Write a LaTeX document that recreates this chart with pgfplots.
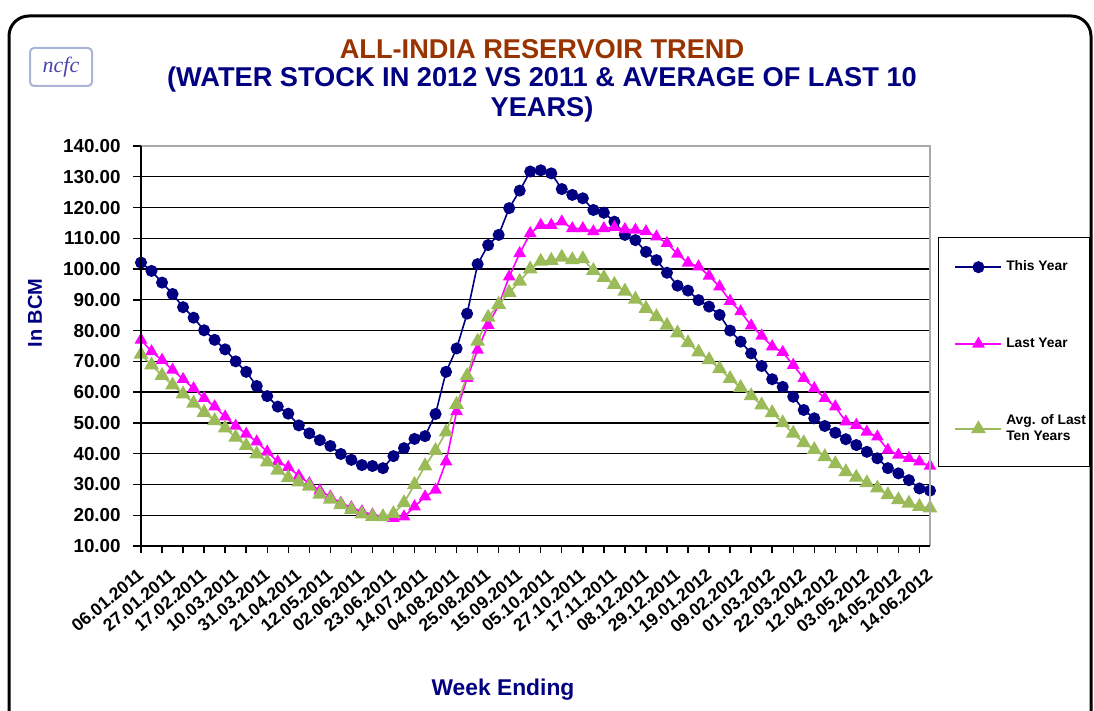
\documentclass[border=0pt]{standalone}
\usepackage{pgfplots}
\pgfplotsset{compat=1.18}
\usepackage{fontspec}
\setmainfont{Liberation Sans}
\newfontfamily\logofont{Liberation Serif}
\definecolor{navyc}{RGB}{0,0,128}
\definecolor{brownc}{RGB}{153,51,0}
\definecolor{magc}{RGB}{255,0,255}
\definecolor{greenc}{RGB}{155,187,89}
\definecolor{logoc}{RGB}{170,180,215}
\definecolor{logot}{RGB}{70,70,170}
\definecolor{borderg}{RGB}{170,170,170}

\pgfplotstableread{
i this last avg
0 102.1 77.0 72.3
1 99.4 73.2 68.8
2 95.6 70.4 65.4
3 91.9 67.2 62.3
4 87.6 64.2 59.4
5 84.2 61.2 56.4
6 80.1 58.0 53.4
7 77.0 55.3 50.7
8 73.9 52.0 48.3
9 70.0 49.0 45.3
10 66.6 46.4 42.6
11 62.0 43.9 39.9
12 58.7 40.6 37.3
13 55.3 37.4 34.6
14 53.0 35.6 32.2
15 49.2 32.8 30.8
16 46.6 30.3 29.4
17 44.4 28.0 26.8
18 42.5 26.0 25.2
19 39.9 24.0 23.4
20 38.0 22.5 21.8
21 36.3 21.2 20.4
22 36.0 20.2 19.6
23 35.3 19.6 19.5
24 39.2 19.0 20.5
25 41.8 19.5 24.0
26 44.8 22.8 30.0
27 45.7 26.0 36.0
28 52.9 28.2 41.0
29 66.6 37.4 47.0
30 74.2 53.7 56.0
31 85.5 64.5 65.3
32 101.6 73.7 76.5
33 107.8 81.8 84.3
34 111.1 88.3 88.5
35 119.8 97.5 92.4
36 125.5 105.1 96.0
37 131.7 111.6 100.0
38 132.1 114.3 102.5
39 131.1 114.3 102.8
40 126.0 115.4 103.8
41 124.1 113.2 103.0
42 123.0 113.2 103.3
43 119.2 112.2 99.5
44 118.3 113.2 97.2
45 115.4 113.6 95.0
46 111.1 112.9 92.8
47 109.4 112.7 90.2
48 105.6 112.2 87.2
49 102.9 110.5 84.5
50 98.8 108.4 81.7
51 94.6 104.9 79.2
52 93.0 102.0 76.0
53 89.9 100.8 73.0
54 87.8 97.8 70.5
55 85.1 94.3 67.6
56 80.0 89.6 64.4
57 76.4 86.2 61.5
58 72.6 81.6 58.8
59 68.5 78.3 55.8
60 64.2 74.8 53.3
61 61.7 73.0 50.0
62 58.5 68.8 46.6
63 54.2 64.5 43.5
64 51.5 61.2 41.3
65 49.0 58.0 39.0
66 46.8 55.3 36.7
67 44.7 50.4 34.1
68 42.8 49.3 32.3
69 40.6 47.1 30.5
70 38.5 45.5 28.8
71 35.3 41.2 26.6
72 33.6 39.6 25.0
73 31.4 38.5 23.9
74 28.7 37.4 22.8
75 28.0 36.0 22.3
}\datatable

\begin{document}
\begin{tikzpicture}
\useasboundingbox (0pt,0pt) rectangle (547pt,355.5pt);
\begin{scope}
\clip (0pt,0pt) rectangle (547pt,355.5pt);
\draw[line width=1.5pt, rounded corners=10pt] (4.5pt,-30pt) rectangle (545.5pt,347.5pt);
\end{scope}
% logo
\node[draw=logoc, line width=1pt, rounded corners=2pt, minimum width=31pt, minimum height=19pt, inner sep=0pt,
      font=\logofont\itshape\fontsize{11}{12}\selectfont, text=logot] at (30.5pt,322pt) {ncfc};
% titles
\node[font=\fontsize{13.6}{16}\selectfont\bfseries, text=brownc] at (271pt,331pt) {ALL-INDIA RESERVOIR TREND};
\node[font=\fontsize{13.6}{16}\selectfont\bfseries, text=navyc] at (271pt,316pt) {(WATER STOCK IN 2012 VS 2011 \& AVERAGE OF LAST 10};
\node[font=\fontsize{13.6}{16}\selectfont\bfseries, text=navyc] at (271pt,301pt) {YEARS)};
% axis labels
\node[font=\fontsize{10}{12}\selectfont\bfseries, text=navyc, rotate=90] at (17.5pt,199pt) {In BCM};
\node[font=\fontsize{11.4}{13}\selectfont\bfseries, text=navyc] at (251.5pt,10.5pt) {Week Ending};

\begin{axis}[
  at={(70.5pt,82.5pt)}, anchor=south west,
  scale only axis, width=394.5pt, height=200pt,
  xmin=0, xmax=75, ymin=10, ymax=140,
  clip=false,
  axis line style={draw=none},
  tick pos=left, tick align=outside,
  ytick={10,20,...,140},
  major tick length=4pt,
  minor tick length=3.5pt,
  y tick style={black, line width=0.7pt},
  major x tick style={draw=none},
  minor xtick={0,2,...,74},
  minor x tick style={black, line width=0.7pt},
  xtick={0,3,...,75},
  xticklabels={06.01.2011,27.01.2011,17.02.2011,10.03.2011,31.03.2011,21.04.2011,12.05.2011,02.06.2011,23.06.2011,14.07.2011,04.08.2011,25.08.2011,15.09.2011,05.10.2011,27.10.2011,17.11.2011,08.12.2011,29.12.2011,19.01.2012,09.02.2012,01.03.2012,22.03.2012,12.04.2012,03.05.2012,24.05.2012,14.06.2012},
  xticklabel style={rotate=40, anchor=east, inner sep=0pt, font=\fontsize{8.8}{10}\selectfont\bfseries},
  xticklabel shift=9pt,
  yticklabel style={anchor=east, inner sep=0pt, font=\fontsize{9.4}{10}\selectfont\bfseries},
  yticklabel shift=6pt,
  /pgf/number format/.cd, fixed, fixed zerofill, precision=2, assume math mode=true, 1000 sep={},
  /pgfplots/.cd,
  ymajorgrids,
  major grid style={black, line width=0.65pt},
  legend style={at={(1.0101,0.7725)}, anchor=north west, draw=black, line width=0.7pt,
     font=\fontsize{6.9}{8.2}\selectfont\bfseries, row sep=28pt, inner xsep=0pt, inner ysep=9.5pt,
     nodes={align=left}},
  legend cell align=left,
  legend image code/.code={\path (0pt,0pt); \draw[mark repeat=2,mark phase=2,#1] plot coordinates {(8pt,0pt) (19.5pt,0pt) (31pt,0pt)};},
  after end axis/.code={
    \draw[borderg, line width=0.8pt] (rel axis cs:0,1) -- (rel axis cs:1,1) -- (rel axis cs:1,0);
    \draw[black, line width=1pt] (rel axis cs:0,1) -- (rel axis cs:0,0) -- (rel axis cs:1,0);
  },
]
\addplot[color=navyc, line width=0.8pt, mark=*, mark size=2.6pt, mark options={fill=navyc, draw=navyc}]
  table[x=i, y=this] {\datatable};
\addlegendentry{This Year}
\addplot[color=magc, line width=0.8pt, mark=triangle*, mark size=2.9pt, mark options={fill=magc, draw=magc}]
  table[x=i, y=last] {\datatable};
\addlegendentry{Last Year}
\addplot[color=greenc, line width=0.8pt, mark=triangle*, mark size=3.5pt, mark options={fill=greenc, draw=greenc}]
  table[x=i, y=avg] {\datatable};
\addlegendentry{Avg. of Last\\Ten Years}
\end{axis}
\end{tikzpicture}
\end{document}
